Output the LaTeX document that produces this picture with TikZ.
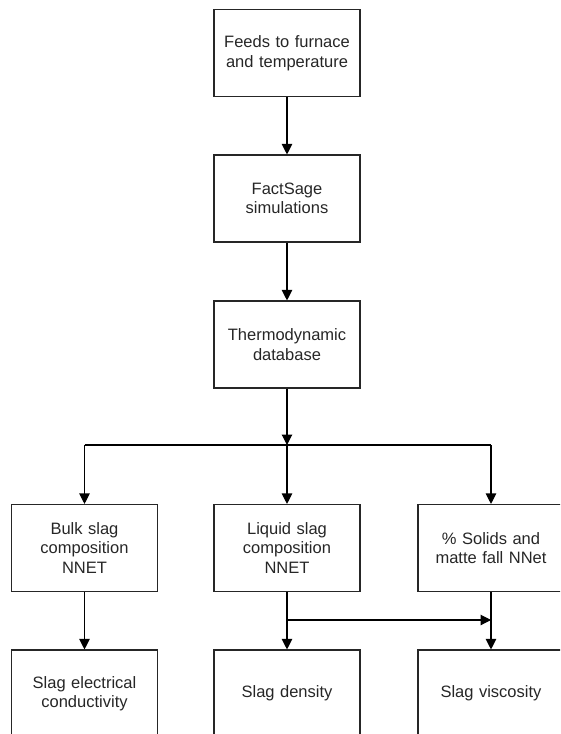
\documentclass[tikz,border=0pt]{standalone}
\usepackage{fontspec}
\setmainfont{Liberation Sans}
\usetikzlibrary{arrows.meta,positioning}
\begin{document}
\begin{tikzpicture}[x=1pt,y=-1pt,
  box/.style={draw=black!85,line width=1.1pt,minimum width=146pt,minimum height=87pt,
    inner sep=2pt,text width=140pt,align=center,font=\fontsize{16.5pt}{19.5pt}\selectfont,text=black!85},
  conn/.style={draw=black,line width=1.1pt},
  arr/.style={conn,-{Triangle[length=10.5pt,width=10.5pt]}}]
\useasboundingbox (0,0) rectangle (560,734);
\clip (0,0) rectangle (560,734);
\node[box] (b1) at (287,53) {Feeds to furnace\\and temperature};
\node[box] (b2) at (287,198.5) {FactSage\\simulations};
\node[box] (b3) at (287,344.5) {Thermodynamic\\database};
\node[box] (m1) at (84.5,548) {Bulk slag\\composition\\NNET};
\node[box] (m2) at (287,548) {Liquid slag\\composition\\NNET};
\node[box] (m3) at (491,548) {\% Solids and\\matte fall NNet};
\node[box] (l1) at (84.5,693.5) {Slag electrical\\conductivity};
\node[box] (l2) at (287,693.5) {Slag density};
\node[box] (l3) at (491,693.5) {Slag viscosity};
\coordinate (j) at (287,445);
\coordinate (jl) at (m1.north |- j);
\coordinate (jr) at (m3.north |- j);
\coordinate (c1) at (287,620);
\coordinate (c2) at (m3.south |- c1);
\draw[arr] (b1) -- (b2);
\draw[arr] (b2) -- (b3);
\draw[arr] (b3) -- (j);
\draw[conn] (jl) -- (jr);
\draw[arr] (jl) -- (m1);
\draw[arr] (j) -- (m2);
\draw[arr] (jr) -- (m3);
\draw[arr] (m1) -- (l1);
\draw[arr] (m2) -- (l2);
\draw[arr] (m3) -- (l3);
\draw[arr] (c1) -- (c2);
\end{tikzpicture}
\end{document}
